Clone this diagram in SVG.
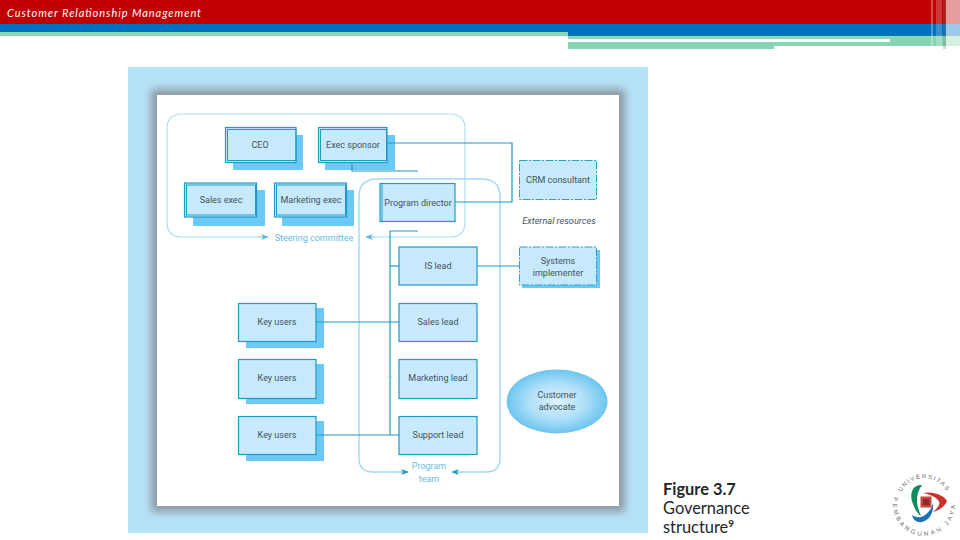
<svg xmlns="http://www.w3.org/2000/svg" width="960" height="540" viewBox="0 0 960 540">
<style>
.shadow{fill:#6cc8f5}
.box{fill:#c6e9fb;stroke:#1e9cc4;stroke-width:1.2}
.inner{fill:none;stroke:#1e9cc4;stroke-width:1}
.dash{fill:#c6e9fb;stroke:#2aa3c6;stroke-width:1;stroke-dasharray:8 1.5 2 1.5}
.wire{fill:none;stroke:#1f9cbf;stroke-width:1.2}
.tick{fill:none;stroke:#9fd3e4;stroke-width:1}
.team{fill:none;stroke:#a3d9ef;stroke-width:1.4}
.steer{fill:none;stroke:#a8dbf0;stroke-width:1.1}
text{font-family:Roboto,"Liberation Sans",sans-serif}
.lbl{font-size:9px;fill:#44545f;text-anchor:middle}
.blue{font-size:9px;fill:#68bde0;text-anchor:middle}
.cap{font-size:16.4px;fill:#23272a;font-family:Lato,"Liberation Sans",sans-serif}
.seal{font-size:6px;fill:#666;font-family:"Liberation Sans",sans-serif}
</style>
<defs>
<filter id="blur" x="-10%" y="-10%" width="120%" height="120%"><feGaussianBlur stdDeviation="4.5"/></filter>
<radialGradient id="oval"><stop offset="0" stop-color="#dcf2fc"/><stop offset="0.55" stop-color="#b0e0f8"/><stop offset="1" stop-color="#6cc5ef"/></radialGradient>
<marker id="ah" viewBox="0 0 10 8" refX="9" refY="4" markerWidth="9" markerHeight="6" orient="auto" markerUnits="userSpaceOnUse"><path d="M0 0L10 4L0 8L2.5 4Z" fill="#5fb7de"/></marker>
<marker id="ahd" viewBox="0 0 10 8" refX="9" refY="4" markerWidth="10" markerHeight="6" orient="auto" markerUnits="userSpaceOnUse"><path d="M0 0L10 4L0 8L2.5 4Z" fill="#1e9cc4"/></marker>
<path id="sealTop" d="M899.5 513A26 26 0 1 1 948.5 513"/>
<path id="sealBot" d="M894 497A31 31 0 1 0 954 497"/>
</defs>
<rect width="960" height="540" fill="#fff"/>
<g id="header">
<rect width="960" height="24" fill="#c00000"/>
<rect y="24" width="960" height="8" fill="#0070c0"/>
<rect y="32" width="568" height="4" fill="#88d5b3"/>
<rect x="568" y="32" width="392" height="3" fill="#0070c0"/>
<rect x="568" y="35" width="392" height="1" fill="#0b7f9a"/>
<rect x="568" y="36" width="392" height="3" fill="#88d5b3"/>
<rect x="568" y="39" width="322" height="3" fill="#fff"/>
<rect x="890" y="39" width="70" height="7" fill="#88d5b3"/>
<rect x="774" y="42" width="116" height="4" fill="#88d5b3"/>
<rect x="568" y="42" width="206" height="7" fill="#88d5b3"/>
<rect x="931" y="0" width="2" height="46" fill="#fff" opacity=".3"/>
<rect x="936" y="0" width="6" height="46" fill="#fff" opacity=".22"/>
<rect x="943" y="0" width="3" height="49" fill="#777" opacity=".3"/>
<rect x="946" y="0" width="14" height="49" fill="#fff" opacity=".62"/>
<text x="7" y="17" font-size="11" font-style="italic" style="font-family:Lato,'Liberation Sans',sans-serif" fill="#fff" textLength="194" lengthAdjust="spacing">Customer Relationship Management</text>
</g>
<g id="panel">
<rect x="128" y="67" width="520" height="466" fill="#b6e2f7"/>
<rect x="151" y="89" width="474" height="423" fill="#8d98a2" filter="url(#blur)"/>
<rect x="157" y="95" width="462" height="411" fill="#fff"/>
</g>
<g id="groups">
<path class="steer" d="M268 237H182Q167 237 167 222V129Q167 114 182 114H450Q465 114 465 129V222Q465 237 450 237H366"/>
<path class="team" d="M452 472H486Q500 472 500 458V197Q500 179 482 179H377Q359 179 359 197V458Q359 472 373 472H408"/>
<path d="M258 237H268" class="steer" marker-end="url(#ah)"/>
<path d="M376 237H366" class="steer" marker-end="url(#ah)"/>
<path d="M398 472H408" class="team" marker-end="url(#ahd)"/>
<path d="M462 472H452" class="team" marker-end="url(#ahd)"/>
</g>
<g id="ceo"><rect class="shadow" x="233" y="135" width="70" height="35"/><rect class="box" x="225.5" y="127.5" width="70.5" height="35"/><rect class="inner" x="227.5" y="129.5" width="68.5" height="31"/><text class="lbl" x="260" y="148">CEO</text></g>
<g id="exec-sponsor"><rect class="shadow" x="325" y="135" width="70" height="35"/><rect class="box" x="318.5" y="127.5" width="68.5" height="35"/><rect class="inner" x="320.5" y="129.5" width="66" height="31"/><text class="lbl" x="353" y="148">Exec sponsor</text></g>
<g id="sales-exec"><rect class="shadow" x="193" y="190" width="72" height="36"/><rect class="box" x="184.5" y="183" width="72" height="34"/><rect class="inner" x="186.5" y="185" width="69" height="30"/><text class="lbl" x="221" y="203">Sales exec</text></g>
<g id="marketing-exec"><rect class="shadow" x="282" y="190" width="72" height="36"/><rect class="box" x="274.5" y="183" width="72" height="34"/><rect class="inner" x="276.5" y="185" width="69" height="30"/><text class="lbl" x="311" y="203">Marketing exec</text></g>
<g id="program-director"><rect class="box" x="380" y="183.5" width="75" height="38"/><path class="inner" d="M382 183.5V221.500"/><text class="lbl" x="418" y="206">Program director</text></g>
<g id="crm-consultant"><rect class="dash" x="519.5" y="160.5" width="77" height="39"/><text class="lbl" x="558" y="183">CRM consultant</text></g>
<g id="external-resources"><text x="559" y="224" font-size="9.2" font-style="italic" fill="#44545f" text-anchor="middle">External resources</text></g>
<g id="is-lead"><rect class="box" x="399" y="247" width="78" height="38"/><text class="lbl" x="438" y="269">IS lead</text></g>
<g id="systems-implementer"><rect class="shadow" x="522" y="250" width="78" height="38"/><rect class="dash" x="519.5" y="247" width="77" height="38"/><text class="lbl" x="558" y="264">Systems</text><text class="lbl" x="558" y="276">implementer</text></g>
<g id="sales-lead"><rect class="box" x="399" y="303.5" width="78" height="38"/><text class="lbl" x="438" y="325">Sales lead</text></g>
<g id="marketing-lead"><rect class="box" x="399" y="359.5" width="78" height="39"/><text class="lbl" x="438" y="381">Marketing lead</text></g>
<g id="support-lead"><rect class="box" x="399" y="416.5" width="78" height="38"/><text class="lbl" x="438" y="438">Support lead</text></g>
<g id="key-users-1"><rect class="shadow" x="246" y="308" width="78" height="40"/><rect class="box" x="238.5" y="303.5" width="77.5" height="38"/><text class="lbl" x="277" y="325">Key users</text></g>
<g id="key-users-2"><rect class="shadow" x="246" y="364" width="78" height="40"/><rect class="box" x="238.5" y="359.5" width="77.5" height="39"/><text class="lbl" x="277" y="381">Key users</text></g>
<g id="key-users-3"><rect class="shadow" x="246" y="421" width="78" height="40"/><rect class="box" x="238.5" y="416.5" width="77.5" height="38"/><text class="lbl" x="277" y="438">Key users</text></g>
<g id="customer-advocate"><ellipse cx="557" cy="401.5" rx="50.5" ry="32" fill="url(#oval)"/><text class="lbl" x="557" y="398">Customer</text><text class="lbl" x="557" y="410">advocate</text></g>
<g id="connectors">
<path class="wire" d="M387 143H512V202H455"/>
<path class="wire" d="M352 162V171H418"/>
<path class="wire" d="M418 231H390V435"/>
<path class="wire" d="M390 266H399"/>
<path class="wire" d="M477 266H519"/>
<path class="wire" d="M316 322H399"/>
<path class="wire" d="M316 435H399"/>
<path class="tick" d="M387.5 322l2.5-2.5 2.5 2.5M387.5 378l2.5-2.5 2.5 2.5"/>
</g>
<g id="labels">
<text class="blue" x="314" y="241">Steering committee</text>
<text class="blue" x="429" y="469">Program</text>
<text class="blue" x="429" y="482">team</text>
</g>
<g id="caption">
<text class="cap" x="663" y="495" font-weight="700">Figure 3.7</text>
<text class="cap" x="663" y="514">Governance</text>
<text class="cap" x="663" y="533">structure<tspan font-size="10" font-weight="700" dy="-6">9</tspan></text>
</g>
<g id="logo">
<text class="seal" text-anchor="middle" letter-spacing="1.5"><textPath href="#sealTop" startOffset="50%">UNIVERSITAS</textPath></text>
<text class="seal" letter-spacing="2.8"><textPath href="#sealBot" startOffset="0">PEMBANGUNAN JAYA</textPath></text>
<path d="M922 485C912 484 909 495 913 504C915 510 918 514 921 516C917 507 914 496 922 485Z" fill="#0f8a5a"/>
<path d="M923 493C933 491 944 495 947 501C945 506 940 510 933 512C939 507 941 503 938 500C934 496 929 494 923 493Z" fill="#c8322c"/>
<path d="M933 503C934 512 930 520 922 522C917 523 913 520 912 515C916 518 921 518 925 515C929 512 932 508 933 503Z" fill="#1b73b3"/>
<rect x="920.5" y="496.5" width="11" height="11" fill="#c8453c"/>
<rect x="923" y="499" width="6" height="6" fill="#8a2b27"/>
</g>
</svg>
